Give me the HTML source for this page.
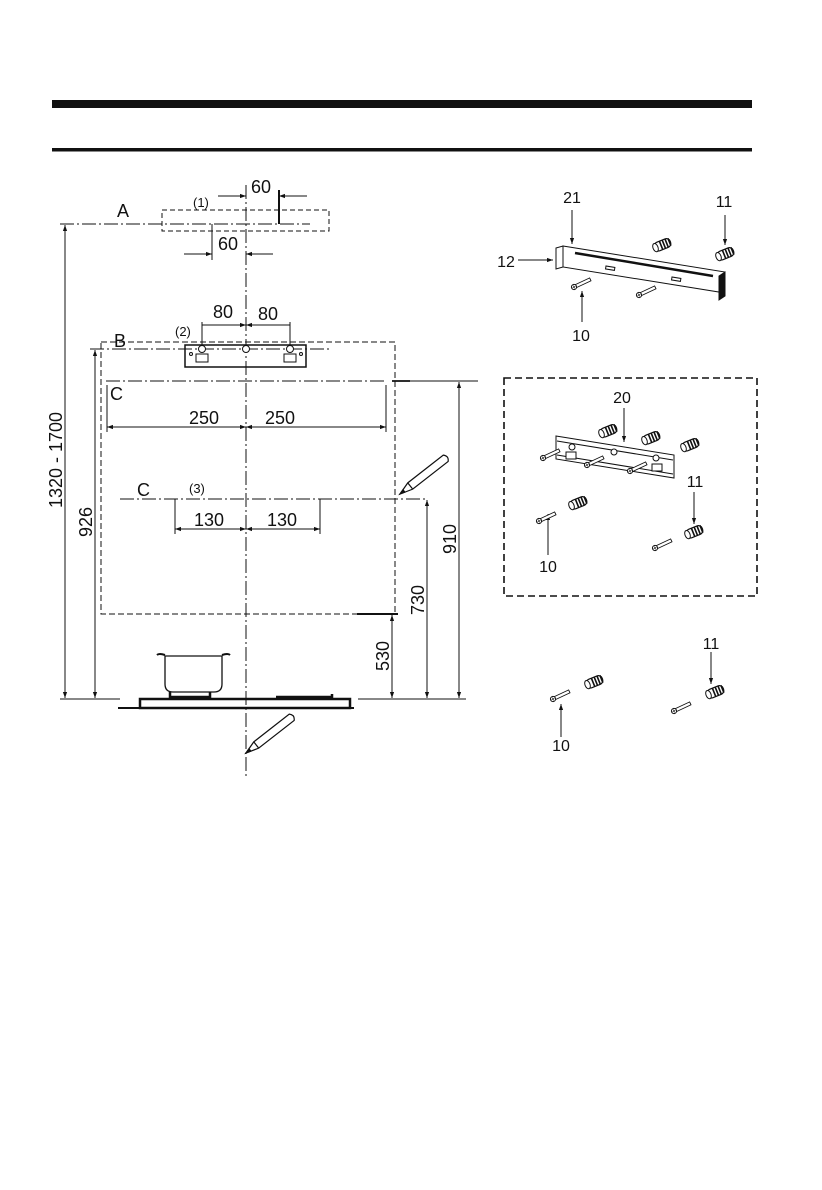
<!DOCTYPE html>
<html><head><meta charset="utf-8"><style>
html,body{margin:0;padding:0;background:#fff}
svg{display:block}
text{font-family:"Liberation Sans",Arial,sans-serif;fill:#111}
</style></head><body>
<svg width="822" height="1190" viewBox="0 0 822 1190" xmlns="http://www.w3.org/2000/svg">
<defs>
<marker id="ar" viewBox="0 0 10 10" refX="10" refY="5" markerWidth="9" markerHeight="6" orient="auto-start-reverse" markerUnits="userSpaceOnUse"><path d="M0,1.5 L10,5 L0,8.5 z" fill="#111"/></marker>
<g id="plug"><g transform="rotate(-22)"><rect x="-8" y="-4.5" width="17" height="9" rx="4" fill="#fff" stroke="#111" stroke-width="1.2"/><path d="M-1,-4.5 v9 M2,-4.5 v9 M5,-4.5 v9 M8,-4 v8" stroke="#111" stroke-width="1.6"/><ellipse cx="-7" cy="0" rx="2.5" ry="4.3" fill="#fff" stroke="#111" stroke-width="1"/></g></g>
<g id="screw"><g transform="rotate(-25)"><rect x="0" y="-1.6" width="18" height="3.2" fill="#fff" stroke="#111" stroke-width="0.9"/><circle cx="0" cy="0" r="2.6" fill="#fff" stroke="#111" stroke-width="1"/><path d="M-1.5,0h3M0,-1.5v3" stroke="#111" stroke-width="0.7"/></g></g>
</defs>
<!-- header bars -->
<rect x="52" y="100" width="700" height="8" fill="#111"/>
<rect x="52" y="148" width="700" height="3.5" fill="#111"/>

<g stroke="#111" fill="none" stroke-width="1">
<!-- centerline -->
<line x1="246" y1="185" x2="246" y2="776" stroke-dasharray="14,3,2,3"/>
<!-- A -->
<rect x="162" y="210" width="167" height="21" stroke-dasharray="5,3"/>
<line x1="60" y1="224" x2="310" y2="224" stroke-dasharray="14,3,2,3"/>
<line x1="279" y1="190" x2="279" y2="224" stroke-width="2"/>
<line x1="218" y1="196" x2="246" y2="196" marker-end="url(#ar)"/>
<line x1="307" y1="196" x2="279" y2="196" marker-end="url(#ar)"/>
<line x1="212" y1="224" x2="212" y2="260"/>
<line x1="184" y1="254" x2="212" y2="254" marker-end="url(#ar)"/>
<line x1="273" y1="254" x2="246" y2="254" marker-end="url(#ar)"/>
<!-- big dims -->
<line x1="65" y1="698" x2="65" y2="225" marker-end="url(#ar)"/>
<line x1="65" y1="260" x2="65" y2="698" marker-end="url(#ar)"/>
<line x1="95" y1="698" x2="95" y2="350" marker-end="url(#ar)"/>
<line x1="95" y1="400" x2="95" y2="698" marker-end="url(#ar)"/>
<!-- B -->
<rect x="101" y="342" width="294" height="272" stroke-dasharray="6,3"/>
<line x1="90" y1="349" x2="330" y2="349" stroke-dasharray="14,3,2,3"/>
<line x1="357" y1="614" x2="398" y2="614" stroke-width="2"/>
<rect x="185" y="345" width="121" height="22" stroke-width="1.5"/>
<line x1="202" y1="322" x2="202" y2="345"/>
<line x1="290" y1="322" x2="290" y2="345"/>
<line x1="202" y1="325" x2="246" y2="325" marker-end="url(#ar)"/>
<line x1="290" y1="325" x2="246" y2="325" marker-end="url(#ar)"/>
<!-- C1 -->
<line x1="106" y1="381" x2="386" y2="381" stroke-dasharray="14,3,2,3"/>
<line x1="392" y1="381" x2="410" y2="381" stroke-width="1.8"/>
<line x1="410" y1="381" x2="478" y2="381"/>
<line x1="107" y1="385" x2="107" y2="432"/>
<line x1="386" y1="385" x2="386" y2="432"/>
<line x1="246" y1="427" x2="107" y2="427" marker-end="url(#ar)"/>
<line x1="107" y1="427" x2="246" y2="427" marker-end="url(#ar)"/>
<line x1="246" y1="427" x2="386" y2="427" marker-end="url(#ar)"/>
<line x1="386" y1="427" x2="246" y2="427" marker-end="url(#ar)"/>
<line x1="459" y1="698" x2="459" y2="382" marker-end="url(#ar)"/>
<line x1="459" y1="420" x2="459" y2="698" marker-end="url(#ar)"/>
<!-- C2 -->
<line x1="120" y1="499" x2="425" y2="499" stroke-dasharray="14,3,2,3"/>
<line x1="175" y1="499" x2="175" y2="534"/>
<line x1="320" y1="499" x2="320" y2="534"/>
<line x1="246" y1="529" x2="175" y2="529" marker-end="url(#ar)"/>
<line x1="175" y1="529" x2="246" y2="529" marker-end="url(#ar)"/>
<line x1="246" y1="529" x2="320" y2="529" marker-end="url(#ar)"/>
<line x1="320" y1="529" x2="246" y2="529" marker-end="url(#ar)"/>
<line x1="427" y1="698" x2="427" y2="500" marker-end="url(#ar)"/>
<line x1="427" y1="540" x2="427" y2="698" marker-end="url(#ar)"/>
<line x1="392" y1="698" x2="392" y2="615" marker-end="url(#ar)"/>
<line x1="392" y1="640" x2="392" y2="698" marker-end="url(#ar)"/>
<!-- base -->
<line x1="60" y1="699" x2="120" y2="699"/>
<line x1="358" y1="699" x2="466" y2="699"/>
<rect x="140" y="699" width="210" height="9" stroke-width="2.5"/>
<line x1="118" y1="708" x2="354" y2="708" stroke-width="2"/>
<path d="M165,656 v28 q0,8 8,8 h41 q8,0 8,-8 v-28 z" stroke-width="1.3"/>
<path d="M157,655 q2,-2 8,0 M222,655 q6,-2 8,0" stroke-width="2"/>
<path d="M170,692 v5 h40 v-5 M276,697 h56 v-3" stroke-width="2.5"/>
<!-- pencils -->
<g transform="translate(246,753) rotate(-38)" stroke-width="1.2"><path d="M0,0 L13,-4 H58 Q62,0 58,4 H13 Z" fill="#fff"/><line x1="13" y1="-4" x2="13" y2="4"/><path d="M0,0 L5,-1.5 V1.5Z" fill="#111"/></g>
<g transform="translate(400,494) rotate(-38)" stroke-width="1.2"><path d="M0,0 L13,-4 H58 Q62,0 58,4 H13 Z" fill="#fff"/><line x1="13" y1="-4" x2="13" y2="4"/><path d="M0,0 L5,-1.5 V1.5Z" fill="#111"/></g>
</g>
<!-- bracket details -->
<g fill="#fff" stroke="#111" stroke-width="1">
<circle cx="202" cy="349" r="3.5"/><circle cx="246" cy="349" r="3.5"/><circle cx="290" cy="349" r="3.5"/>
<circle cx="191" cy="354" r="1.5"/><circle cx="301" cy="354" r="1.5"/>
<rect x="196" y="354" width="12" height="8"/><rect x="284" y="354" width="12" height="8"/>
</g>
<g font-size="18">
<text x="117" y="217">A</text>
<text x="251" y="193">60</text>
<text x="218" y="250">60</text>
<text x="213" y="318">80</text>
<text x="258" y="320">80</text>
<text x="114" y="347">B</text>
<text x="110" y="400">C</text>
<text x="189" y="424">250</text>
<text x="265" y="424">250</text>
<text x="137" y="496">C</text>
<text x="194" y="526">130</text>
<text x="267" y="526">130</text>
<text transform="translate(62,460) rotate(-90)" text-anchor="middle">1320 - 1700</text>
<text transform="translate(92,522) rotate(-90)" text-anchor="middle">926</text>
<text transform="translate(456,539) rotate(-90)" text-anchor="middle">910</text>
<text transform="translate(424,600) rotate(-90)" text-anchor="middle">730</text>
<text transform="translate(389,656) rotate(-90)" text-anchor="middle">530</text>
</g>
<g font-size="13">
<text x="193" y="207">(1)</text>
<text x="175" y="336">(2)</text>
<text x="189" y="493">(3)</text>
</g>

<!-- right side -->
<g stroke="#111" fill="none" stroke-width="1">
<!-- bracket 21 -->
<path d="M563,246 L725,272 L725,293 L563,267 Z" fill="#fff"/>
<path d="M556,248 L563,246 L563,267 L556,269 Z" fill="#fff"/>
<path d="M719,276 L725,272 L725,296 L719,300 Z" fill="#111"/>
<path d="M575,253 L713,276" stroke-width="2.5"/>
<rect x="606" y="266" width="9" height="3" transform="rotate(9 606 266)"/>
<rect x="672" y="277" width="9" height="3" transform="rotate(9 672 277)"/>
<line x1="572" y1="210" x2="572" y2="244" marker-end="url(#ar)"/>
<line x1="725" y1="215" x2="725" y2="245" marker-end="url(#ar)"/>
<line x1="518" y1="260" x2="553" y2="260" marker-end="url(#ar)"/>
<line x1="582" y1="322" x2="582" y2="291" marker-end="url(#ar)"/>
<!-- dashed box -->
<rect x="504" y="378" width="253" height="218" stroke-width="1.6" stroke-dasharray="7,4"/>
<path d="M556,436 L674,455 L674,478 L556,459 Z" fill="#fff"/>
<path d="M557,441 L673,460 M557,455 L673,474"/>
<line x1="624" y1="408" x2="624" y2="442" marker-end="url(#ar)"/>
<line x1="694" y1="492" x2="694" y2="524" marker-end="url(#ar)"/>
<line x1="548" y1="555" x2="548" y2="514" marker-end="url(#ar)"/>
<line x1="711" y1="652" x2="711" y2="684" marker-end="url(#ar)"/>
<line x1="561" y1="737" x2="561" y2="704" marker-end="url(#ar)"/>
</g>
<g fill="#fff" stroke="#111" stroke-width="1"><circle cx="572" cy="447" r="3"/><circle cx="614" cy="452" r="3"/><circle cx="656" cy="458" r="3"/><rect x="566" y="452" width="10" height="7"/><rect x="652" y="464" width="10" height="7"/></g>
<use href="#plug" x="662" y="245"/><use href="#plug" x="725" y="254"/>
<use href="#screw" x="574" y="287"/><use href="#screw" x="639" y="295"/>
<use href="#plug" x="608" y="431"/><use href="#plug" x="651" y="438"/><use href="#plug" x="690" y="445"/>
<use href="#screw" x="543" y="458"/><use href="#screw" x="587" y="465"/><use href="#screw" x="630" y="471"/>
<use href="#plug" x="578" y="503"/><use href="#screw" x="539" y="521"/>
<use href="#plug" x="694" y="532"/><use href="#screw" x="655" y="548"/>
<use href="#plug" x="594" y="682"/><use href="#screw" x="553" y="699"/>
<use href="#plug" x="715" y="692"/><use href="#screw" x="674" y="711"/>
<g font-size="16" text-anchor="middle">
<text x="572" y="203">21</text>
<text x="724" y="207">11</text>
<text x="506" y="267">12</text>
<text x="581" y="341">10</text>
<text x="622" y="403">20</text>
<text x="695" y="487">11</text>
<text x="548" y="572">10</text>
<text x="711" y="649">11</text>
<text x="561" y="751">10</text>
</g>
</svg>
</body></html>
